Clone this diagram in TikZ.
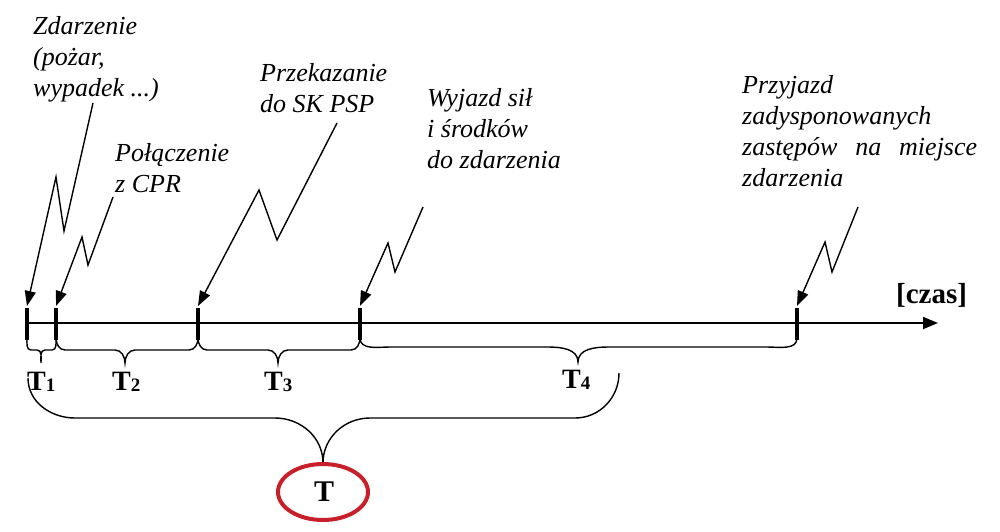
\documentclass[tikz,border=0pt]{standalone}
\usepackage{fontspec}
\setmainfont{Liberation Serif}
\usetikzlibrary{arrows.meta}
\newcommand{\tlbrace}[8]{% x1, x2, xm, ytop, yline, ytip, r1, r2
  \draw[bracestyle] (#1,#4) to[out=-90,in=180] (#1+#7,#5) -- (#3-#8,#5)
    to[out=0,in=90] (#3,#6) to[out=90,in=180] (#3+#8,#5) -- (#2-#7,#5)
    to[out=0,in=-90] (#2,#4);}
\begin{document}
\begin{tikzpicture}[x=1pt,y=-1pt,
  lbl/.style={anchor=north west,inner sep=0pt,align=left,
    font=\fontsize{26}{31}\selectfont\itshape},
  tlbl/.style={anchor=base west,inner sep=0pt,font=\fontsize{28}{31}\selectfont\bfseries},
  pointer/.style={line width=1.4pt,-{Triangle[length=15pt,width=11pt]}},
  tick/.style={line width=4.5pt},
  axis/.style={line width=1.8pt,-{Triangle[length=15pt,width=12pt]}},
  bracestyle/.style={line width=1.4pt}]
\useasboundingbox (0,0) rectangle (1000,531);
% ticks
\coordinate (k1) at (27,306);
\coordinate (k2) at (56,306);
\coordinate (k3) at (198,306);
\coordinate (k4) at (360,306);
\coordinate (k5) at (797,306);
\coordinate (a0) at (27,323);
\coordinate (a1) at (938,323);
\draw[axis] (a0) -- (a1);
\foreach \x in {27,56,198,360,797}{\draw[tick] (\x,308) -- (\x,340);}
% labels
\node[lbl] (l1) at (33,16) {Zdarzenie\\(pożar,\\wypadek ...)};
\node[lbl] (l2) at (115,143) {Połączenie\\z CPR};
\node[lbl] (l3) at (260,63) {Przekazanie\\do SK PSP};
\node[lbl] (l4) at (427,88) {Wyjazd sił\\i środków\\do zdarzenia};
\node[lbl] (l5) at (742,75) {Przyjazd\\zadysponowanych\\\makebox[235pt][s]{zastępów na miejsce}\\zdarzenia};
\node[anchor=base west,inner sep=0pt,font=\fontsize{29}{31}\selectfont\bfseries] (czas) at (896,303) {[czas]};
% lightning pointers
\coordinate (s1) at (93,103);
\coordinate (s2) at (113,197);
\coordinate (s3) at (337,123);
\coordinate (s4) at (423,207);
\coordinate (s5) at (858,207);
\draw[pointer] (s1) -- (64,231) -- (56,177) -- (k1);
\draw[pointer] (s2) -- (88,265) -- (82,237) -- (k2);
\draw[pointer] (s3) -- (277,240) -- (259,190) -- (k3);
\draw[pointer] (s4) -- (395,272) -- (388,243) -- (k4);
\draw[pointer] (s5) -- (832,272) -- (825,242) -- (k5);
% braces
\tlbrace{27}{56}{41}{338}{350}{363}{4}{4}
\tlbrace{56}{198}{125}{338}{350}{363}{9}{10}
\tlbrace{198}{360}{278}{338}{350}{363}{9}{10}
\tlbrace{360}{797}{578}{338}{347}{362}{30}{30}
% T labels
\node[tlbl] (t1) at (27,390) {T\raisebox{-0.15ex}{\fontsize{19}{20}\selectfont 1}};
\node[tlbl] (t2) at (112,390) {T\raisebox{-0.15ex}{\fontsize{19}{20}\selectfont 2}};
\node[tlbl] (t3) at (264,390) {T\raisebox{-0.15ex}{\fontsize{19}{20}\selectfont 3}};
\node[tlbl] (t4) at (562,388) {T\raisebox{-0.15ex}{\fontsize{19}{20}\selectfont 4}};
% big brace
\draw[bracestyle] (28,378) to[out=-90,in=180] (75,418) -- (275,418)
  to[out=0,in=90] (323,463) to[out=90,in=180] (370,418) -- (575,418)
  to[out=0,in=-90] (619,373);
% total T
\draw[draw={rgb,255:red,200;green,32;blue,42},line width=4pt] (323,492) ellipse [x radius=45pt,y radius=28pt];
\node[anchor=base,inner sep=0pt,font=\fontsize{30}{32}\selectfont\bfseries] (T) at (324,501) {T};
\end{tikzpicture}
\end{document}
